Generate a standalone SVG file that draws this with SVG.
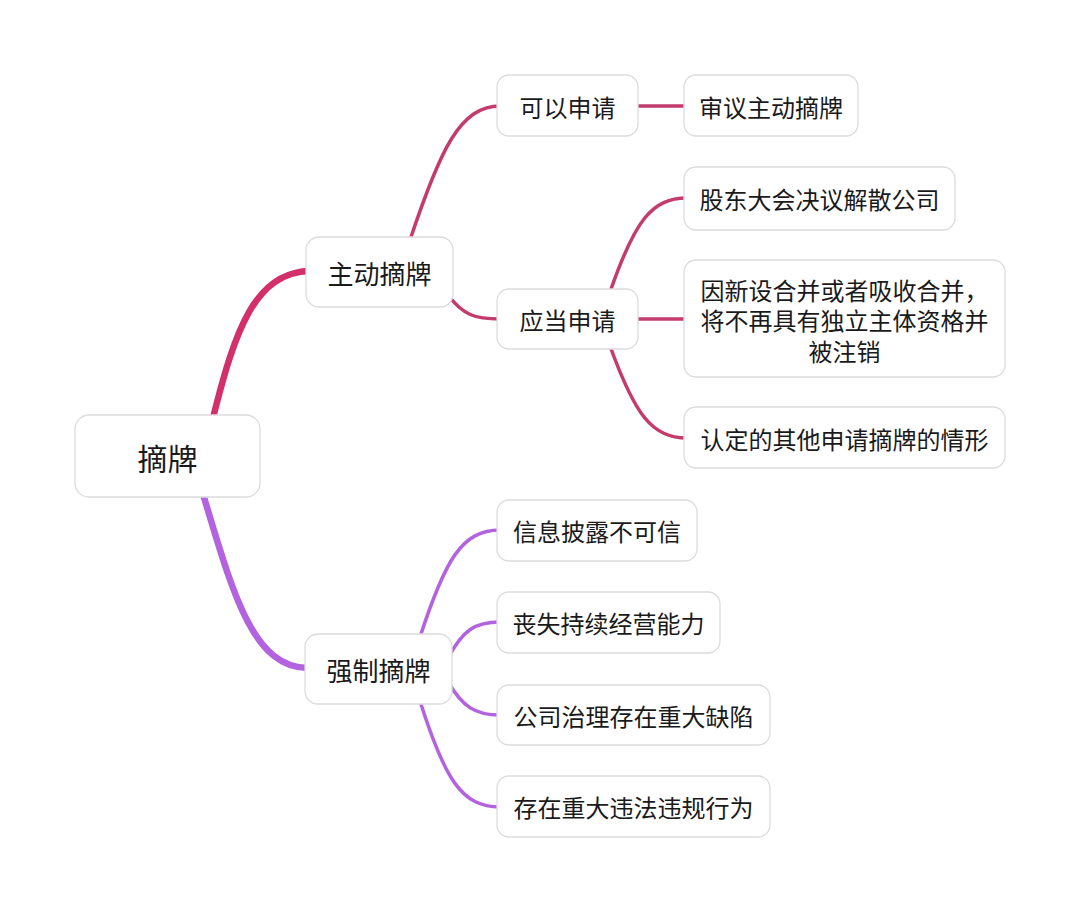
<svg xmlns="http://www.w3.org/2000/svg" width="1080" height="913" viewBox="0 0 1080 913">
<style>
.n rect{fill:#ffffff;stroke:#dcdcdc;stroke-width:1.3}
.n text{font-family:"Noto Sans CJK SC","Noto Sans",sans-serif;fill:#1a1a1a;text-anchor:middle;dominant-baseline:central}
.t1{font-size:30px}
.t2{font-size:26px}
.t3{font-size:24px}
.c path{fill:none;stroke-linecap:round}
.r{stroke:#d3306a}
.m{stroke:#c43c6c}
.p{stroke:#b362e0}
</style>
<rect x="0" y="0" width="1080" height="913" fill="#ffffff"/>
<g id="connectors" class="c">
<path class="r" stroke-width="6.5" d="M213,418 C235,330 255,272 310,271"/>
<path class="p" stroke-width="6.5" d="M203,494 C232,590 252,668 308,668"/>
<path class="m" stroke-width="3.5" d="M410,240 C440,150 460,106 500,106"/>
<path class="m" stroke-width="3.5" d="M448,295 C463,315 475,319 500,319"/>
<path class="m" stroke-width="3.5" d="M636,106 L686,106"/>
<path class="m" stroke-width="3.5" d="M610,292 C635,220 652,198 687,198"/>
<path class="m" stroke-width="3.5" d="M636,319 L687,319"/>
<path class="m" stroke-width="3.5" d="M610,346 C635,415 652,438 687,438"/>
<path class="p" stroke-width="3.5" d="M420,637 C445,560 462,530 500,530"/>
<path class="p" stroke-width="3.5" d="M448,658 C463,630 475,622 500,622"/>
<path class="p" stroke-width="3.5" d="M448,682 C463,707 475,715 500,715"/>
<path class="p" stroke-width="3.5" d="M420,701 C445,780 462,807 500,807"/>
</g>
<g id="root" class="n"><rect x="75" y="415" width="185" height="82" rx="14"/><text class="t1" x="167.5" y="457">摘牌</text></g>
<g id="zhudong" class="n"><rect x="306" y="237" width="147" height="70" rx="13"/><text class="t2" x="379.5" y="272">主动摘牌</text></g>
<g id="qiangzhi" class="n"><rect x="305" y="634" width="147" height="70" rx="13"/><text class="t2" x="378.5" y="669">强制摘牌</text></g>
<g id="keyi" class="n"><rect x="497" y="75" width="141" height="61" rx="12"/><text class="t3" x="567.5" y="106">可以申请</text></g>
<g id="shenyi" class="n"><rect x="684" y="75" width="174" height="61" rx="12"/><text class="t3" x="771" y="106">审议主动摘牌</text></g>
<g id="yingdang" class="n"><rect x="497" y="289" width="141" height="60" rx="12"/><text class="t3" x="567.5" y="319">应当申请</text></g>
<g id="gudong" class="n"><rect x="684" y="167" width="271" height="63" rx="12"/><text class="t3" x="819.5" y="198.5">股东大会决议解散公司</text></g>
<g id="yinxin" class="n"><rect x="684" y="260" width="321" height="117" rx="12"/><text class="t3" x="844.5" y="289">因新设合并或者吸收合并，</text><text class="t3" x="844.5" y="319.5">将不再具有独立主体资格并</text><text class="t3" x="844.5" y="350">被注销</text></g>
<g id="rending" class="n"><rect x="684" y="407" width="321" height="61" rx="12"/><text class="t3" x="844.5" y="438">认定的其他申请摘牌的情形</text></g>
<g id="xinxi" class="n"><rect x="497" y="500" width="200" height="61" rx="12"/><text class="t3" x="597" y="530.5">信息披露不可信</text></g>
<g id="sangshi" class="n"><rect x="497" y="592" width="223" height="61" rx="12"/><text class="t3" x="608.5" y="622.5">丧失持续经营能力</text></g>
<g id="gongsi" class="n"><rect x="497" y="685" width="273" height="60" rx="12"/><text class="t3" x="633.5" y="715">公司治理存在重大缺陷</text></g>
<g id="cunzai" class="n"><rect x="497" y="776" width="273" height="61" rx="12"/><text class="t3" x="633.5" y="806.5">存在重大违法违规行为</text></g>
</svg>
